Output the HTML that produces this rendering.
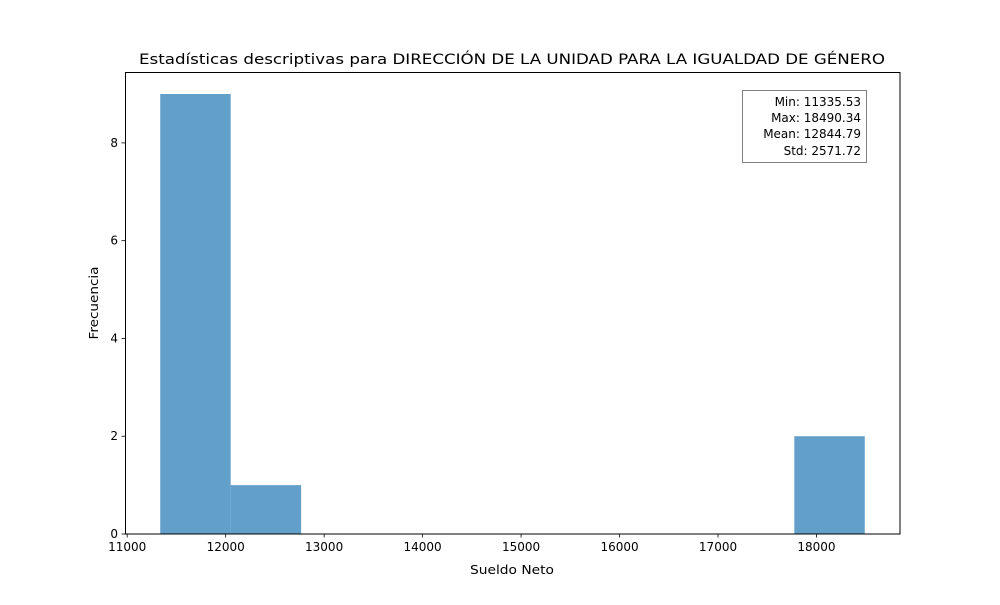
<!DOCTYPE html>
<html><head><meta charset="utf-8"><style>
body{margin:0;background:#fff}
svg text{font-family:"DejaVu Sans","Liberation Sans",sans-serif;fill:#000}
</style></head><body>
<svg id="chart" width="1000" height="600">
<rect width="1000" height="600" fill="#fff"/>
<text x="512" y="64" font-size="14.4" text-anchor="middle" textLength="746" lengthAdjust="spacingAndGlyphs">Estadísticas descriptivas para DIRECCIÓN DE LA UNIDAD PARA LA IGUALDAD DE GÉNERO</text>
<g id="bars"></g>
<g id="xticks"></g>
<g id="yticks"></g>
<rect x="125.5" y="72.5" width="774.5" height="461.5" fill="none" stroke="#000" stroke-width="1"/>
<text x="512" y="574" font-size="12" text-anchor="middle" textLength="84" lengthAdjust="spacingAndGlyphs">Sueldo Neto</text>
<text transform="translate(98,303) rotate(-90)" font-size="12" text-anchor="middle" textLength="73" lengthAdjust="spacingAndGlyphs">Frecuencia</text>
<g>
<rect x="742.5" y="90.5" width="124" height="72" fill="#fff" stroke="#808080" stroke-width="1"/>
<text x="861" y="106" font-size="12" text-anchor="end">Min: 11335.53</text>
<text x="861" y="122" font-size="12" text-anchor="end">Max: 18490.34</text>
<text x="861" y="138" font-size="12" text-anchor="end">Mean: 12844.79</text>
<text x="861" y="155" font-size="12" text-anchor="end">Std: 2571.72</text>
</g>
</svg>
<script>
const binStart = 11335.53;
const binEnd = 18490.34;
const counts = [9,1,0,0,0,0,0,0,0,2];
const xTicks = [11000,12000,13000,14000,15000,16000,17000,18000];
const yTicks = [0,2,4,6,8];
const NS="http://www.w3.org/2000/svg";
const L=125,R=900,T=72,B=534;
const span=binEnd-binStart;
const xmin=binStart-0.05*span,xmax=binEnd+0.05*span;
const ymax=Math.max(...counts)*1.05;
const xs=v=>L+(v-xmin)/(xmax-xmin)*(R-L);
const ys=v=>B-v/ymax*(B-T);
const w=span/counts.length;
const bars=document.getElementById('bars');
counts.forEach((c,i)=>{
 if(!c)return;
 const r=document.createElementNS(NS,'rect');
 const x0=xs(binStart+i*w),x1=xs(binStart+(i+1)*w);
 r.setAttribute('x',x0);r.setAttribute('width',x1-x0);
 r.setAttribute('y',ys(c));r.setAttribute('height',B-ys(c));
 r.setAttribute('fill','#1f77b4');r.setAttribute('fill-opacity','0.7');
 
 
 bars.appendChild(r);
});
const xg=document.getElementById('xticks');
xTicks.forEach(v=>{
 const x=xs(v);
 const l=document.createElementNS(NS,'line');
 l.setAttribute('x1',x);l.setAttribute('x2',x);l.setAttribute('y1',B);l.setAttribute('y2',B+3.5);
 l.setAttribute('stroke','#000');l.setAttribute('stroke-width','0.8');
 
 
 xg.appendChild(l);
 const t=document.createElementNS(NS,'text');
 t.setAttribute('x',x);t.setAttribute('y',B+17);t.setAttribute('font-size','12');t.setAttribute('text-anchor','middle');
 t.textContent=v;
 
 
 xg.appendChild(t);
});
const yg=document.getElementById('yticks');
yTicks.forEach(v=>{
 const y=ys(v);
 const l=document.createElementNS(NS,'line');
 l.setAttribute('x1',L-3.5);l.setAttribute('x2',L);l.setAttribute('y1',y);l.setAttribute('y2',y);
 l.setAttribute('stroke','#000');l.setAttribute('stroke-width','0.8');
 
 
 yg.appendChild(l);
 const t=document.createElementNS(NS,'text');
 t.setAttribute('x',L-7);t.setAttribute('y',y+4);t.setAttribute('font-size','12');t.setAttribute('text-anchor','end');
 t.textContent=v;
 
 
 yg.appendChild(t);
});
</script>
</body></html>
